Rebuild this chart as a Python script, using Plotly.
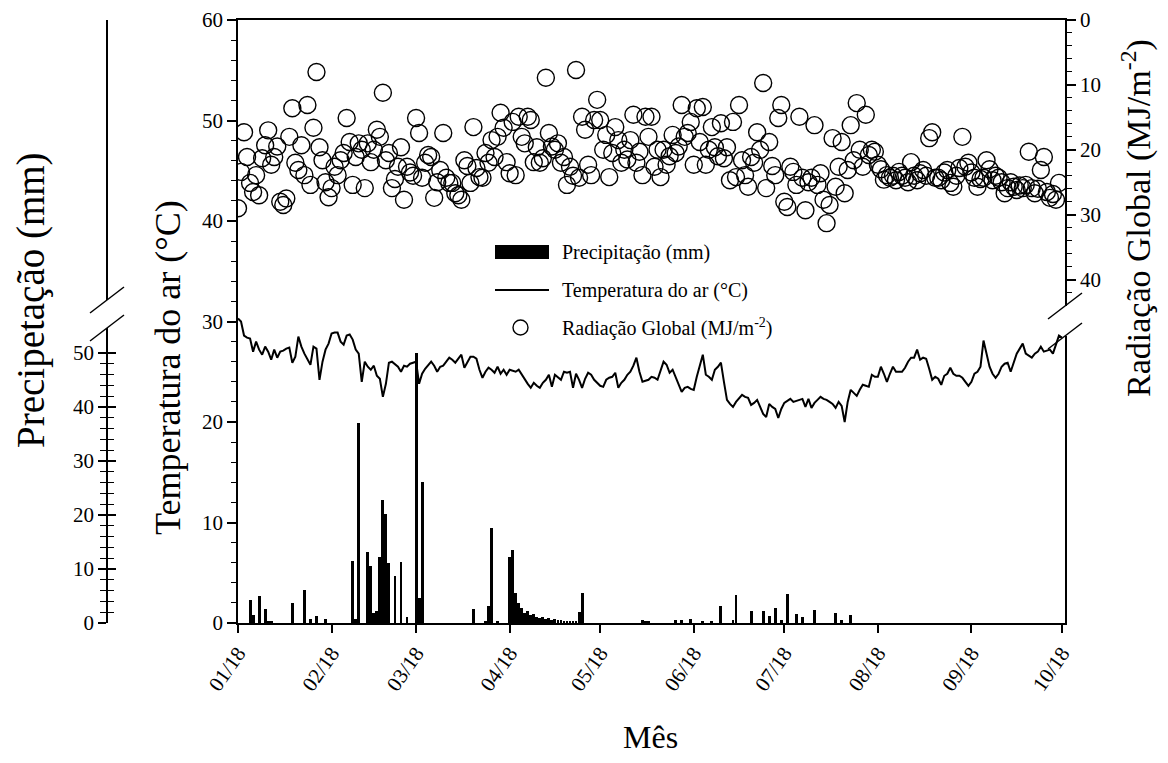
"""Clima diario 2018: precipitacao, temperatura do ar e radiacao global."""

import pandas as pd
import plotly.graph_objects as go

# temperatura media diaria do ar (°C), um valor por dia, mes a mes
temp_jan = [30.3, 30.0, 28.6, 28.4, 28.3, 27.0, 28.0, 27.2, 26.7, 27.5, 27.0, 26.2, 27.2, 26.4, 27.0, 27.1,
            27.3, 27.4, 25.9, 26.5, 28.5, 27.5, 26.8, 26.3, 25.7, 27.5, 27.3, 24.2, 26.0, 27.2, 27.8]
temp_feb = [28.8, 28.9, 28.9, 28.0, 27.7, 28.6, 28.7, 28.2, 27.2, 26.8, 24.0, 26.0, 25.5, 25.2, 25.6, 24.6,
            24.3, 22.5, 23.8, 25.9, 26.0, 25.7, 25.5, 25.0, 25.6, 25.5, 25.8, 25.9]
temp_mar = [26.0, 23.8, 24.8, 25.3, 25.6, 26.0, 25.6, 25.0, 25.5, 25.6, 26.0, 26.4, 26.2, 25.9, 26.3, 26.7,
            25.4, 26.0, 26.5, 26.5, 26.3, 25.2, 24.4, 25.0, 25.4, 25.2, 24.9, 25.5, 24.8, 25.2, 24.7]
temp_apr = [25.2, 25.1, 25.0, 25.2, 24.7, 24.2, 23.8, 23.4, 23.9, 23.6, 23.4, 23.9, 24.2, 24.7, 23.5, 24.7,
            24.4, 24.2, 25.0, 24.9, 25.0, 23.4, 24.8, 24.2, 23.4, 24.3, 24.9, 24.7, 24.2, 23.9]
temp_may = [23.6, 23.5, 24.2, 24.4, 24.5, 24.9, 23.4, 23.9, 24.2, 24.7, 25.0, 25.6, 26.4, 25.0, 24.0, 24.1,
            24.2, 24.5, 24.4, 24.2, 25.0, 26.0, 25.7, 24.9, 25.2, 24.5, 23.8, 23.0, 23.4, 23.5, 23.3]
temp_jun = [23.2, 24.5, 25.6, 26.7, 24.7, 24.5, 24.2, 25.2, 25.5, 25.9, 24.0, 22.2, 21.8, 21.5, 22.0, 22.4,
            22.7, 22.5, 22.4, 21.7, 21.9, 22.2, 21.5, 20.8, 20.5, 21.8, 21.5, 21.3, 20.4, 21.3]
temp_jul = [21.9, 22.1, 22.3, 22.0, 22.1, 22.2, 22.3, 21.5, 22.3, 21.4, 21.9, 22.2, 22.5, 22.3, 22.2, 22.0,
            21.8, 21.4, 22.0, 21.6, 20.0, 22.0, 23.2, 22.9, 22.6, 23.2, 23.7, 23.6, 23.5, 24.7, 24.5]
temp_aug = [24.5, 25.5, 24.8, 24.0, 24.8, 25.5, 25.0, 25.0, 25.0, 25.4, 26.0, 26.4, 26.4, 27.2, 26.2, 26.4,
            26.3, 25.3, 24.2, 24.5, 24.3, 23.7, 24.6, 24.8, 25.4, 24.8, 24.6, 24.6, 24.4, 24.0, 23.6]
temp_sep = [24.0, 24.8, 25.0, 25.5, 28.1, 26.8, 25.5, 24.8, 24.4, 24.8, 25.5, 25.8, 25.9, 25.0, 25.8, 26.8,
            27.3, 27.8, 26.8, 26.6, 26.4, 26.8, 27.0, 27.5, 27.0, 27.1, 27.2, 26.8, 27.6, 28.6]
temp_oct = [28.4]

# radiacao global diaria (MJ/m-2)
rad_jan = [29.0, 23.4, 17.3, 21.1, 25.1, 26.5, 23.9, 27.0, 21.3, 19.3, 17.0, 22.3, 21.1, 19.5, 28.0, 28.5,
           27.5, 18.0, 13.6, 22.0, 23.1, 19.3, 23.9, 13.1, 25.4, 16.6, 8.0, 19.6, 21.6, 25.0, 27.3]
rad_feb = [25.9, 22.6, 23.9, 21.6, 20.5, 15.1, 18.8, 25.4, 21.1, 19.0, 20.0, 25.9, 19.0, 21.9, 20.0, 16.9,
           18.0, 11.2, 21.6, 20.5, 25.9, 24.5, 22.6, 19.6, 27.7, 22.6, 23.5, 24.0]
rad_mar = [15.1, 17.4, 24.3, 22.0, 20.8, 21.1, 27.4, 25.0, 23.1, 17.4, 24.3, 25.1, 25.1, 26.7, 27.0, 27.7,
           21.6, 22.5, 25.1, 16.5, 22.8, 24.2, 24.3, 20.5, 22.0, 18.5, 21.1, 18.0, 14.3, 16.6, 21.9]
rad_apr = [23.6, 15.7, 23.9, 14.9, 18.0, 19.0, 14.9, 15.4, 21.9, 19.6, 22.0, 21.3, 8.9, 17.4, 19.5, 20.0,
           19.0, 22.0, 21.1, 25.4, 22.6, 24.0, 7.7, 24.3, 14.9, 16.9, 22.3, 23.9, 15.4, 12.3]
rad_may = [15.4, 20.0, 17.7, 24.2, 20.5, 16.5, 18.5, 22.0, 20.0, 21.5, 18.5, 14.6, 22.0, 20.3, 23.9, 14.9,
           18.0, 14.9, 22.6, 20.0, 24.2, 20.0, 22.3, 21.0, 17.7, 20.5, 19.5, 13.1, 18.0, 17.4, 15.7]
rad_jun = [22.3, 13.6, 18.8, 13.4, 22.3, 20.0, 16.5, 19.6, 21.0, 15.9, 21.3, 19.6, 24.7, 15.7, 24.2, 13.1,
           21.6, 23.9, 25.7, 21.1, 22.0, 17.3, 20.0, 9.7, 25.9, 18.8, 22.5, 23.9, 15.1, 13.1]
rad_jul = [28.0, 28.8, 22.6, 23.4, 25.4, 14.9, 24.3, 29.3, 25.0, 24.3, 16.2, 25.4, 23.6, 27.7, 31.3, 28.5,
           18.2, 25.7, 22.6, 18.8, 26.7, 23.1, 16.2, 21.6, 12.8, 20.0, 22.6, 14.6, 20.8, 20.0, 20.3]
rad_aug = [22.3, 23.0, 24.6, 23.9, 24.3, 24.0, 24.7, 23.4, 24.0, 24.3, 25.0, 21.9, 24.0, 24.7, 23.6, 23.1,
           24.0, 18.2, 17.3, 24.3, 24.3, 24.7, 23.5, 23.1, 25.1, 25.7, 24.0, 22.8, 18.0, 22.6, 22.0]
rad_sep = [23.5, 24.3, 25.7, 24.5, 24.3, 21.6, 23.0, 24.7, 24.0, 24.3, 25.0, 26.7, 25.9, 25.0, 25.7, 26.2,
           25.5, 25.9, 25.4, 20.3, 25.9, 26.7, 26.0, 23.1, 21.1, 26.5, 27.4, 26.8, 27.7, 25.1]

# precipitacao (mm): dias com chuva (dias desde 01/01/2018) e altura
rain_day = [4, 5, 7, 9, 10, 11, 18, 22, 24, 26, 29,
            38, 39, 40, 43, 44, 45, 46, 47, 48, 49, 50, 52, 54, 56,
            59, 60, 61, 78, 82, 83, 84, 86,
            90, 91, 92, 93, 94, 95, 96, 97, 98, 99, 100, 101, 102, 103, 104, 105, 106, 107, 108, 109,
            110, 111, 112, 113, 114,
            134, 135, 136, 145, 147, 150, 154, 157, 160, 164, 165, 170, 174, 176, 178, 180, 182,
            185, 187, 191, 198, 200, 203, 204, 211]
rain_mm = [4.3, 1.5, 5.0, 2.6, 0.3, 0.2, 3.7, 6.1, 0.7, 1.3, 0.8,
           11.5, 0.8, 37.0, 13.1, 10.6, 1.9, 2.2, 12.2, 22.8, 20.2, 11.1, 8.7, 11.3, 1.1,
           50.0, 4.6, 26.1, 2.6, 0.3, 3.2, 17.6, 0.2,
           12.2, 13.5, 5.6, 3.7, 2.8, 1.9, 2.2, 1.5, 1.6, 1.2, 1.0, 1.1, 0.8, 0.9, 0.6, 0.7, 0.5, 0.6,
           0.4, 0.3, 0.3, 0.2, 0.2,
           2.1, 5.5, 0.6, 0.2, 0.3, 0.5, 0.5, 0.8, 0.2, 0.3, 3.1, 0.5, 5.2, 2.2, 2.3, 1.3, 2.8,
           0.6, 5.4, 1.6, 1.1, 2.4, 1.8, 0.5, 1.5]

temperature = temp_jan + temp_feb + temp_mar + temp_apr + temp_may + temp_jun + temp_jul + temp_aug + temp_sep + temp_oct
radiation = rad_jan + rad_feb + rad_mar + rad_apr + rad_may + rad_jun + rad_jul + rad_aug + rad_sep

start = pd.Timestamp("2018-01-01")
temp_dates = pd.date_range(start, periods=len(temperature), freq="D")
rad_dates = pd.date_range(start, periods=len(radiation), freq="D")
rain_dates = [start + pd.Timedelta(days=d) for d in rain_day]

FONT = "Liberation Serif"
BLACK = "black"

# page pixel frame of the plotting area (the page body adds an 8px offset)
OFF = 8
L, R, T, B = 20, 1065, 20, 623


def px(x):
    return (x - L) / (R - L)


def py(y):
    return (B - y) / (B - T)


fig = go.Figure()

fig.add_trace(go.Bar(x=rain_dates, y=rain_mm, yaxis="y2", marker=dict(color=BLACK, line=dict(width=0)),
                     width=0.95 * 86400000, name="Precipitação (mm)", showlegend=False))
fig.add_trace(go.Scatter(x=temp_dates, y=temperature, mode="lines", line=dict(color=BLACK, width=2),
                         name="Temperatura do ar (°C)", showlegend=False))
fig.add_trace(go.Scatter(x=rad_dates, y=radiation, yaxis="y3", mode="markers",
                         marker=dict(symbol="circle-open", size=17, color=BLACK, line=dict(width=1.4)),
                         name="Radiação Global", showlegend=False))
# invisible trace so the inner tick axis of the precipitation scale is drawn
fig.add_trace(go.Scatter(x=rain_dates, y=rain_mm, yaxis="y4", mode="markers", marker=dict(opacity=0),
                         hoverinfo="skip", showlegend=False))

tick_font = dict(family=FONT, size=21, color=BLACK)
rain_major = [0, 10, 20, 30, 40, 50]
rain_minor = [v for v in range(2, 52, 2)]

fig.update_layout(
    width=1168 - 2 * OFF, height=763 - 2 * OFF, autosize=False,
    margin=dict(l=L - OFF, r=1168 - OFF - R, t=T - OFF, b=763 - OFF - B, autoexpand=False),
    paper_bgcolor="white", plot_bgcolor="white",
    bargap=0,
    xaxis=dict(type="date", domain=[px(238), 1], range=["2018-01-01", "2018-10-02"],
               tick0="2018-01-01", dtick="M1", tickformat="%m/%y", tickangle=-55,
               ticks="outside", ticklen=8, tickwidth=1.5, tickcolor=BLACK,
               showline=True, linewidth=1.5, linecolor=BLACK, mirror=True, automargin=False,
               showgrid=False, zeroline=False, tickfont=tick_font),
    yaxis=dict(range=[0, 60], dtick=10, ticks="outside", ticklen=9, tickwidth=1.5, tickcolor=BLACK,
               minor=dict(dtick=2, ticks="outside", ticklen=5, tickwidth=1.2, tickcolor=BLACK),
               showline=True, linewidth=1.5, linecolor=BLACK, showgrid=False, zeroline=False,
               automargin=False, tickfont=tick_font),
    yaxis2=dict(overlaying="y", anchor="free", position=px(107), side="left",
                range=[0, 111.6], tickvals=rain_major,
                ticks="outside", ticklen=8, tickwidth=1.5, tickcolor=BLACK,
                minor=dict(tickvals=rain_minor, ticks="outside", ticklen=6, tickwidth=1.2, tickcolor=BLACK),
                showline=True, linewidth=1.5, linecolor=BLACK, showgrid=False, zeroline=False,
                automargin=False, tickfont=tick_font),
    yaxis4=dict(overlaying="y", anchor="free", position=px(107), side="left",
                range=[0, 111.6], tickvals=rain_major, showticklabels=False,
                ticks="inside", ticklen=8, tickwidth=1.5, tickcolor=BLACK,
                minor=dict(tickvals=rain_minor, ticks="inside", ticklen=6, tickwidth=1.2, tickcolor=BLACK),
                showline=False, showgrid=False, zeroline=False, automargin=False),
    yaxis3=dict(overlaying="y", anchor="x", side="right", range=[92.9, 0],
                tickvals=[0, 10, 20, 30, 40], ticks="outside", ticklen=9, tickwidth=1.5, tickcolor=BLACK,
                minor=dict(tickvals=[v for v in range(2, 44, 2)], ticks="outside", ticklen=5,
                           tickwidth=1.2, tickcolor=BLACK),
                showline=True, linewidth=1.5, linecolor=BLACK, showgrid=False, zeroline=False,
                automargin=False, tickfont=tick_font),
)

shapes = []
# broken-axis marks: white gap over the axis line plus two slashes
for ax_x, y_hi, y_lo in [(107, 300, 328), (1065, 306, 336)]:
    shapes.append(dict(type="rect", xref="paper", yref="paper", layer="above",
                       x0=px(ax_x - 4), x1=px(ax_x + 4), y0=py(y_lo), y1=py(y_hi),
                       fillcolor="white", line=dict(width=0)))
    for yc in (y_hi, y_lo):
        shapes.append(dict(type="line", xref="paper", yref="paper", layer="above",
                           x0=px(ax_x - 17), x1=px(ax_x + 17), y0=py(yc + 13), y1=py(yc - 13),
                           line=dict(color=BLACK, width=1.5)))

# legend
shapes.append(dict(type="rect", xref="paper", yref="paper", x0=px(495), x1=px(549), y0=py(259), y1=py(245),
                   fillcolor=BLACK, line=dict(width=0)))
shapes.append(dict(type="line", xref="paper", yref="paper", x0=px(495), x1=px(549), y0=py(290), y1=py(290),
                   line=dict(color=BLACK, width=2)))
shapes.append(dict(type="circle", xref="paper", yref="paper", x0=px(513), x1=px(528), y0=py(335), y1=py(320),
                   line=dict(color=BLACK, width=1.4)))
fig.update_layout(shapes=shapes)

legend_font = dict(family=FONT, size=20, color=BLACK)
annotations = [
    dict(text="Precipitação (mm)", x=px(560), y=py(252)),
    dict(text="Temperatura do ar (°C)", x=px(560), y=py(290)),
    dict(text="Radiação Global (MJ/m<sup>-2</sup>)", x=px(560), y=py(327)),
]
for a in annotations:
    fig.add_annotation(xref="paper", yref="paper", xanchor="left", yanchor="middle", showarrow=False,
                       font=legend_font, **a)

titles = [
    dict(text="Temperatura do ar (°C)", x=px(168), y=py(368), textangle=-90,
         font=dict(family=FONT, size=36, color=BLACK)),
    dict(text="Precipetação (mm)", x=px(31), y=py(300), textangle=-90,
         font=dict(family=FONT, size=39, color=BLACK)),
    dict(text="Radiação Global (MJ/m<sup>-2</sup>)", x=px(1137), y=py(218), textangle=-90,
         font=dict(family=FONT, size=34, color=BLACK)),
    dict(text="Mês", x=px(650), y=py(737), font=dict(family=FONT, size=32, color=BLACK)),
]
for a in titles:
    fig.add_annotation(xref="paper", yref="paper", xanchor="center", yanchor="middle", showarrow=False, **a)

fig.write_html("out.html")
